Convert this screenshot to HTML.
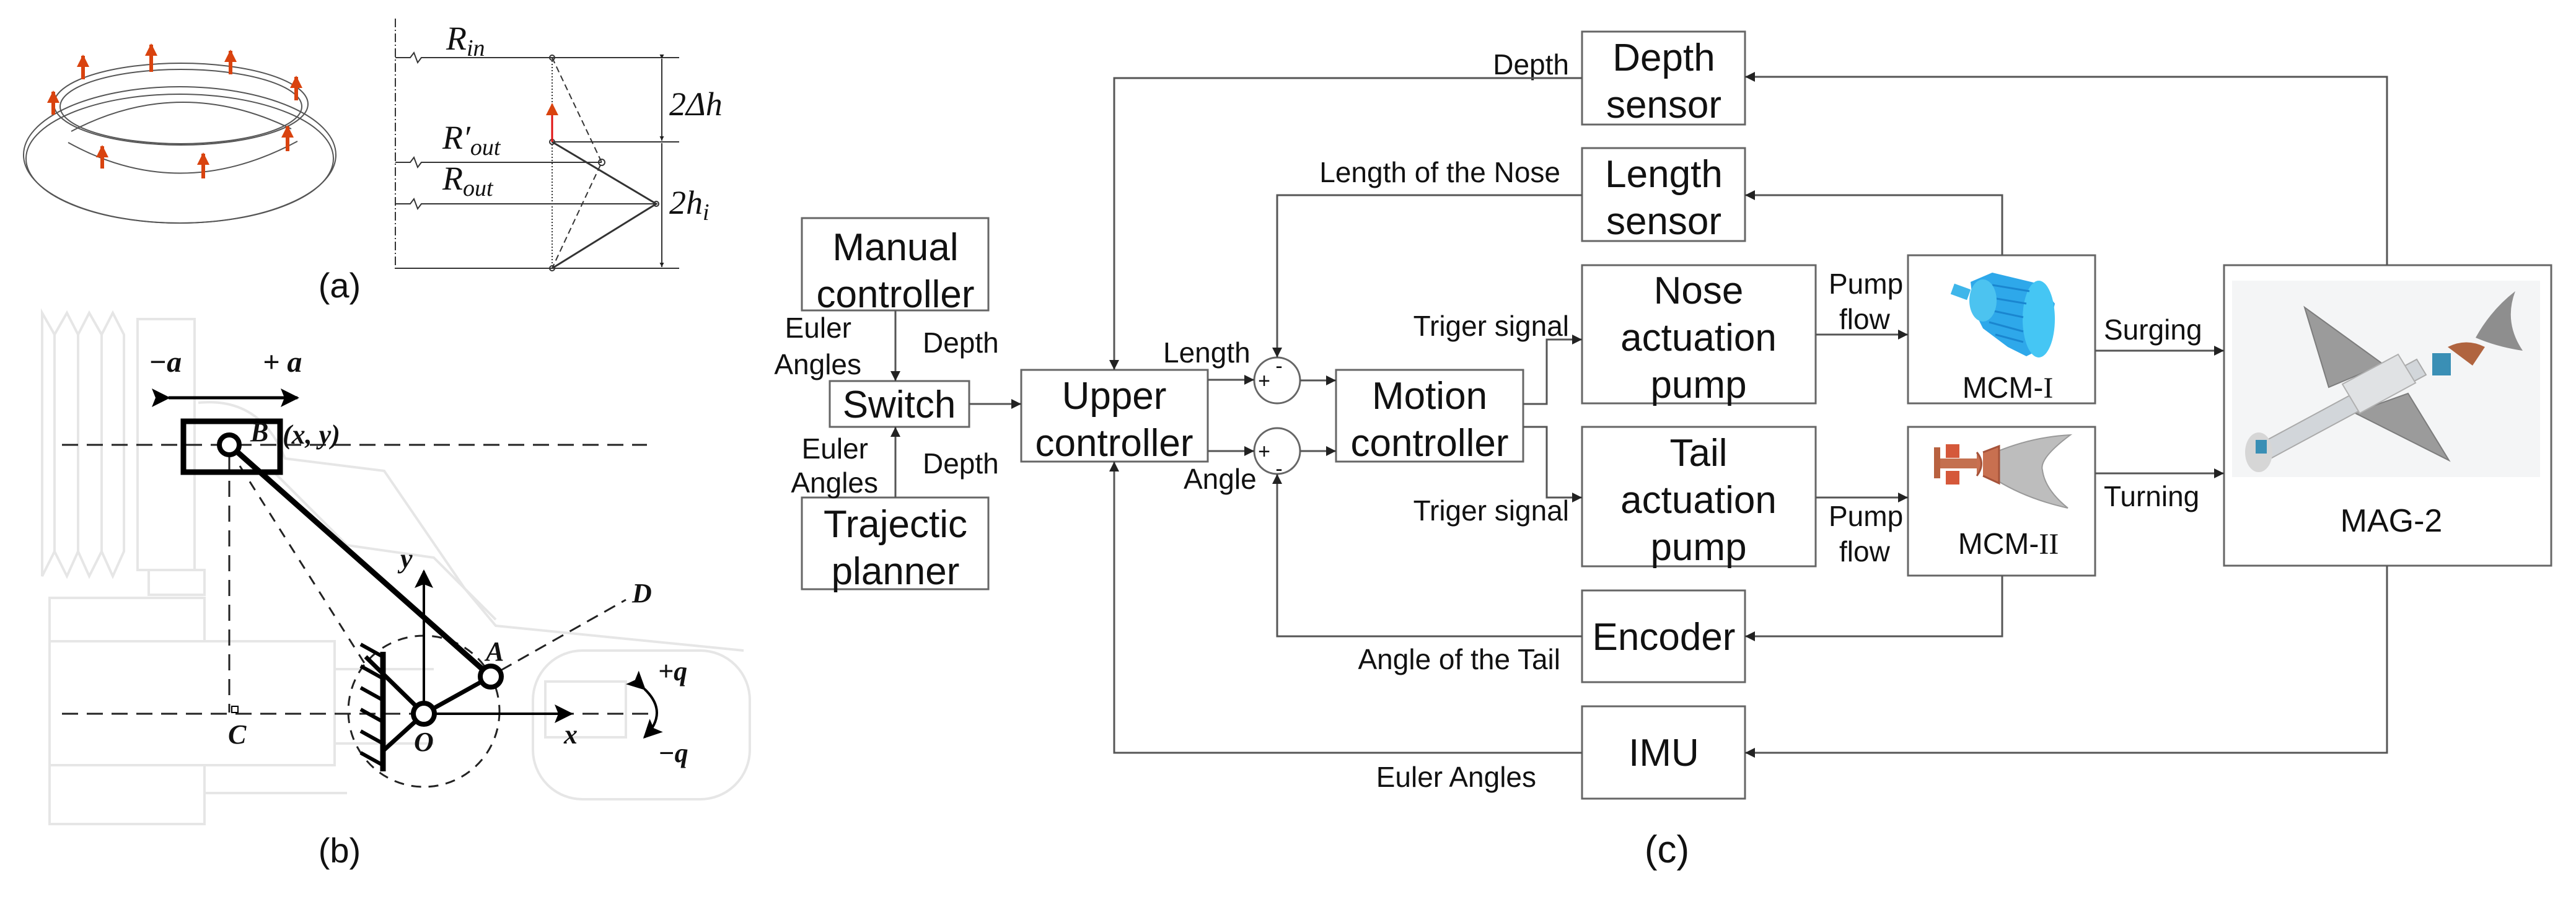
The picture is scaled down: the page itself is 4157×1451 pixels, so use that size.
<!DOCTYPE html>
<html><head><meta charset="utf-8"><style>
html,body{margin:0;padding:0;background:#fff;}
svg{display:block;}
.t{font-family:"Liberation Sans",Arial,sans-serif;fill:#111;}
.s{font-family:"Liberation Serif",serif;font-style:italic;fill:#111;}
.sb{font-family:"Liberation Serif",serif;font-style:italic;font-weight:bold;fill:#111;}
</style></head><body>
<svg width="4157" height="1451" viewBox="0 0 4157 1451" xmlns="http://www.w3.org/2000/svg">
<defs>
<marker id="ar" viewBox="0 0 10 10" refX="10" refY="5" markerWidth="7" markerHeight="7" markerUnits="userSpaceOnUse" orient="auto"><path d="M0,0 L10,5 L0,10 z" fill="#222"/></marker>
<marker id="ar2" viewBox="0 0 10 10" refX="10" refY="5" markerWidth="16" markerHeight="16" markerUnits="userSpaceOnUse" orient="auto"><path d="M0,0 L10,5 L0,10 z" fill="#222"/></marker>
<marker id="ab" viewBox="0 0 10 10" refX="9" refY="5" markerWidth="40" markerHeight="30" markerUnits="userSpaceOnUse" orient="auto"><path d="M0,0 L10,5 L0,10 L2,5 z" fill="#000"/></marker>
<marker id="ared" viewBox="0 0 10 10" refX="9" refY="5" markerWidth="20" markerHeight="20" markerUnits="userSpaceOnUse" orient="auto"><path d="M0,0 L10,5 L0,10 z" fill="#d9430f"/></marker>
</defs>

<!-- ============ Panel (a) ============ -->
<g fill="none" stroke="#555" stroke-width="2">
<ellipse cx="290" cy="250" rx="252" ry="110"/>
<ellipse cx="290" cy="256" rx="248" ry="104"/>
<ellipse cx="292" cy="168" rx="205" ry="66"/>
<ellipse cx="292" cy="172" rx="195" ry="60"/>
<path d="M115,212 Q290,120 470,208"/>
<path d="M110,230 Q290,330 480,228"/>
</g>
<g stroke="#d9430f" stroke-width="6" marker-end="url(#ared)">
<line x1="86" y1="185" x2="86" y2="148"/>
<line x1="134" y1="128" x2="134" y2="90"/>
<line x1="244" y1="116" x2="244" y2="72"/>
<line x1="372" y1="120" x2="372" y2="82"/>
<line x1="478" y1="162" x2="478" y2="124"/>
<line x1="464" y1="244" x2="464" y2="204"/>
<line x1="328" y1="288" x2="328" y2="248"/>
<line x1="165" y1="272" x2="165" y2="236"/>
</g>
<g stroke="#333" stroke-width="2" fill="none">
<line x1="638" y1="30" x2="638" y2="434" stroke-dasharray="14,4,2,4"/>
<line x1="638" y1="433" x2="1096" y2="433"/>
<path d="M638,93 L662,93 L668,85 L674,101 L680,93 L1096,93"/>
<path d="M638,262 L662,262 L668,254 L674,270 L680,262 L971,262"/>
<path d="M638,329 L662,329 L668,321 L674,337 L680,329 L1059,329"/>
<line x1="891" y1="229" x2="1096" y2="229"/>
<line x1="891" y1="93" x2="891" y2="433" stroke-dasharray="2,3"/>
<path d="M891,93 L971,262 L891,433" stroke-dasharray="10,6"/>
<path d="M891,229 L1059,329 L891,433" stroke-width="3"/>
<circle cx="891" cy="93" r="4"/><circle cx="891" cy="229" r="4"/><circle cx="971" cy="262" r="5"/><circle cx="1059" cy="329" r="4"/><circle cx="891" cy="433" r="4"/>
<line x1="1068" y1="95" x2="1068" y2="227" marker-end="url(#ar)" marker-start="url(#ar)"/>
<line x1="1068" y1="231" x2="1068" y2="431" marker-end="url(#ar)"/>
</g>
<line x1="891" y1="229" x2="891" y2="168" stroke="#e01010" stroke-width="3" marker-end="url(#ared)"/>
<text class="s" x="720" y="80" font-size="54">R<tspan font-size="38" dy="10">in</tspan></text>
<text class="s" x="714" y="240" font-size="54">R′<tspan font-size="38" dy="10">out</tspan></text>
<text class="s" x="714" y="306" font-size="54">R<tspan font-size="38" dy="10">out</tspan></text>
<text class="s" x="1080" y="186" font-size="54" font-style="normal">2Δ<tspan font-style="italic">h</tspan></text>
<text class="s" x="1080" y="345" font-size="54" font-style="normal">2<tspan font-style="italic">h</tspan><tspan font-size="38" dy="10" font-style="italic">i</tspan></text>
<text class="t" x="548" y="480" font-size="56" text-anchor="middle">(a)</text>

<!-- ============ Panel (b) ============ -->
<g fill="none" stroke="#e6e6e6" stroke-width="4">
<path d="M68,505 L88,540 L108,505 L126,540 L144,505 L164,540 L182,505 L200,540 L200,890 L182,930 L164,890 L144,930 L126,890 L108,930 L88,890 L68,930 Z"/>
<line x1="88" y1="540" x2="88" y2="890"/><line x1="126" y1="540" x2="126" y2="890"/><line x1="164" y1="540" x2="164" y2="890"/>
<rect x="222" y="515" width="92" height="405"/>
<rect x="240" y="920" width="90" height="40"/>
<rect x="80" y="965" width="250" height="70"/>
<rect x="80" y="1035" width="460" height="200"/>
<rect x="80" y="1235" width="250" height="95"/>
<path d="M320,650 Q420,640 460,740 L620,760 L750,950 L800,1010 L1200,1050"/>
<path d="M440,760 L560,880 L700,900 L800,1000"/>
<rect x="860" y="1050" width="350" height="240" rx="80"/>
<rect x="880" y="1100" width="130" height="90"/>
<line x1="540" y1="1080" x2="700" y2="1080"/><line x1="540" y1="1200" x2="700" y2="1200"/>
<line x1="330" y1="1280" x2="560" y2="1280"/>
</g>
<g stroke="#222" stroke-width="3" fill="none" stroke-dasharray="26,14">
<line x1="100" y1="718" x2="1044" y2="718"/>
<line x1="100" y1="1152" x2="1048" y2="1152"/>
<line x1="370" y1="736" x2="370" y2="1150"/>
<line x1="387" y1="752" x2="598" y2="1086" stroke-dasharray="16,14"/>
<line x1="808" y1="1082" x2="1010" y2="968" stroke-dasharray="20,12"/>
<circle cx="684" cy="1148" r="122" stroke-dasharray="16,12"/>
</g>
<rect x="296" y="680" width="156" height="82" fill="none" stroke="#000" stroke-width="9"/>
<rect x="374" y="1140" width="10" height="10" fill="none" stroke="#000" stroke-width="2"/>
<line x1="370" y1="718" x2="792" y2="1092" stroke="#000" stroke-width="9"/>
<line x1="684" y1="1152" x2="792" y2="1092" stroke="#000" stroke-width="7"/>
<line x1="684" y1="1152" x2="590" y2="1060" stroke="#000" stroke-width="7"/>
<line x1="684" y1="1152" x2="618" y2="1212" stroke="#000" stroke-width="7"/>
<line x1="618" y1="1052" x2="618" y2="1245" stroke="#000" stroke-width="9"/>
<g stroke="#000" stroke-width="6">
<line x1="618" y1="1060" x2="582" y2="1040"/><line x1="618" y1="1095" x2="582" y2="1075"/><line x1="618" y1="1130" x2="582" y2="1110"/><line x1="618" y1="1165" x2="582" y2="1145"/><line x1="618" y1="1200" x2="582" y2="1180"/><line x1="618" y1="1235" x2="582" y2="1215"/>
</g>
<line x1="272" y1="642" x2="480" y2="642" stroke="#000" stroke-width="5" marker-end="url(#ab)" marker-start="url(#ab)"/>
<line x1="684" y1="1152" x2="684" y2="922" stroke="#000" stroke-width="4" marker-end="url(#ab)"/>
<line x1="684" y1="1152" x2="922" y2="1152" stroke="#000" stroke-width="4" marker-end="url(#ab)"/>
<path d="M1040,1112 Q1080,1150 1040,1190" fill="none" stroke="#000" stroke-width="4" marker-end="url(#ab)" marker-start="url(#ab)"/>
<circle cx="370" cy="718" r="16" fill="#fff" stroke="#000" stroke-width="8"/>
<circle cx="792" cy="1092" r="17" fill="#fff" stroke="#000" stroke-width="8"/>
<circle cx="684" cy="1152" r="17" fill="#fff" stroke="#000" stroke-width="8"/>
<text class="sb" x="240" y="600" font-size="48" font-style="normal">−<tspan font-style="italic">a</tspan></text>
<text class="sb" x="424" y="600" font-size="48" font-style="normal">+ <tspan font-style="italic">a</tspan></text>
<text class="sb" x="404" y="712" font-size="44">B</text>
<text class="sb" x="456" y="716" font-size="44" font-style="normal">(<tspan font-style="italic">x</tspan>, <tspan font-style="italic">y</tspan>)</text>
<text class="sb" x="368" y="1200" font-size="44">C</text>
<text class="sb" x="646" y="916" font-size="44">y</text>
<text class="sb" x="910" y="1200" font-size="44">x</text>
<text class="sb" x="1020" y="972" font-size="44">D</text>
<text class="sb" x="784" y="1066" font-size="44">A</text>
<text class="sb" x="668" y="1212" font-size="44" font-style="normal">O</text>
<text class="sb" x="1062" y="1098" font-size="44" font-style="normal">+<tspan font-style="italic">q</tspan></text>
<text class="sb" x="1062" y="1230" font-size="44" font-style="normal">−<tspan font-style="italic">q</tspan></text>
<text class="t" x="548" y="1392" font-size="56" text-anchor="middle">(b)</text>

<!-- ============ Panel (c) ============ -->
<g fill="#fff" stroke="#666" stroke-width="3">
<rect x="1294" y="352" width="301" height="149"/>
<rect x="1339" y="615" width="225" height="74"/>
<rect x="1294" y="803" width="301" height="148"/>
<rect x="1648" y="597" width="301" height="148"/>
<rect x="2156" y="597" width="302" height="148"/>
<rect x="2553" y="51" width="263" height="150"/>
<rect x="2553" y="239" width="263" height="150"/>
<rect x="2553" y="428" width="377" height="223"/>
<rect x="2553" y="689" width="377" height="225"/>
<rect x="2553" y="953" width="263" height="148"/>
<rect x="2553" y="1140" width="263" height="149"/>
<rect x="3079" y="412" width="302" height="239"/>
<rect x="3079" y="689" width="302" height="240"/>
<rect x="3589" y="428" width="528" height="485"/>
<circle cx="2061" cy="614" r="37"/>
<circle cx="2061" cy="728" r="37"/>
</g>
<g font-size="62" class="t" text-anchor="middle">
<text x="1445" y="420">Manual</text><text x="1445" y="496">controller</text>
<text x="1451" y="674">Switch</text>
<text x="1445" y="867">Trajectic</text><text x="1445" y="943">planner</text>
<text x="1798" y="660">Upper</text><text x="1798" y="736">controller</text>
<text x="2307" y="660">Motion</text><text x="2307" y="736">controller</text>
<text x="2685" y="114">Depth</text><text x="2685" y="190">sensor</text>
<text x="2685" y="302">Length</text><text x="2685" y="378">sensor</text>
<text x="2741" y="490">Nose</text><text x="2741" y="566">actuation</text><text x="2741" y="642">pump</text>
<text x="2741" y="752">Tail</text><text x="2741" y="828">actuation</text><text x="2741" y="904">pump</text>
<text x="2685" y="1049">Encoder</text>
<text x="2685" y="1236">IMU</text>
<text x="2690" y="1392">(c)</text>
</g>
<text class="t" x="3859" y="858" font-size="52" text-anchor="middle">MAG-2</text>
<text x="3240" y="642" font-size="48" text-anchor="middle" style="font-family:'Liberation Sans',sans-serif" fill="#111">MCM-<tspan style="font-family:'Liberation Serif',serif">I</tspan></text>
<text x="3241" y="894" font-size="48" text-anchor="middle" style="font-family:'Liberation Sans',sans-serif" fill="#111">MCM-<tspan style="font-family:'Liberation Serif',serif">II</tspan></text>

<g class="t" font-size="46">
<text x="2532" y="120" text-anchor="end">Depth</text>
<text x="2518" y="294" text-anchor="end">Length of the Nose</text>
<text x="2532" y="542" text-anchor="end">Triger signal</text>
<text x="2532" y="840" text-anchor="end">Triger signal</text>
<text x="2518" y="1080" text-anchor="end">Angle of the Tail</text>
<text x="2479" y="1270" text-anchor="end">Euler Angles</text>
<text x="1877" y="585">Length</text>
<text x="1910" y="789">Angle</text>
<text x="1374" y="545" text-anchor="end">Euler</text>
<text x="1390" y="604" text-anchor="end">Angles</text>
<text x="1489" y="569">Depth</text>
<text x="1401" y="740" text-anchor="end">Euler</text>
<text x="1417" y="795" text-anchor="end">Angles</text>
<text x="1489" y="764">Depth</text>
<text x="2951" y="474">Pump</text><text x="2968" y="531">flow</text>
<text x="2951" y="849">Pump</text><text x="2968" y="906">flow</text>
<text x="3395" y="548">Surging</text>
<text x="3395" y="817">Turning</text>
</g>
<g font-size="34" class="t" text-anchor="middle">
<text x="2040" y="626">+</text><text x="2064" y="602">-</text>
<text x="2040" y="740">+</text><text x="2064" y="768">-</text>
</g>

<g fill="none" stroke="#555" stroke-width="3" marker-end="url(#ar2)">
<line x1="1445" y1="501" x2="1445" y2="615"/>
<line x1="1445" y1="803" x2="1445" y2="689"/>
<line x1="1564" y1="652" x2="1648" y2="652"/>
<line x1="1949" y1="613" x2="2024" y2="613"/>
<line x1="1949" y1="728" x2="2024" y2="728"/>
<line x1="2098" y1="614" x2="2156" y2="614"/>
<line x1="2098" y1="728" x2="2156" y2="728"/>
<polyline points="2458,652 2496,652 2496,548 2553,548"/>
<polyline points="2458,689 2496,689 2496,803 2553,803"/>
<polyline points="2553,126 1798,126 1798,597"/>
<polyline points="2553,315 2061,315 2061,577"/>
<polyline points="2553,1027 2061,1027 2061,765"/>
<polyline points="2553,1215 1798,1215 1798,745"/>
<line x1="2930" y1="540" x2="3079" y2="540"/>
<line x1="2930" y1="803" x2="3079" y2="803"/>
<line x1="3381" y1="566" x2="3589" y2="566"/>
<line x1="3381" y1="764" x2="3589" y2="764"/>
<polyline points="3231,412 3231,315 2816,315"/>
<polyline points="3231,929 3231,1027 2816,1027"/>
<polyline points="3852,428 3852,124 2816,124"/>
<polyline points="3852,913 3852,1215 2816,1215"/>
</g>

<!-- MCM-I image -->
<g>
<rect x="3150" y="462" width="28" height="18" fill="#3fb6ea" transform="rotate(20 3164 471)"/>
<path d="M3180,455 L3215,440 L3290,458 L3316,490 L3300,560 L3270,575 L3240,560 L3200,530 L3185,500 Z" fill="#2ea8ea"/>
<ellipse cx="3290" cy="515" rx="26" ry="62" fill="#45c6f4"/>
<g stroke="#1a86d0" stroke-width="3"><line x1="3215" y1="460" x2="3275" y2="470"/><line x1="3210" y1="480" x2="3270" y2="490"/><line x1="3208" y1="500" x2="3265" y2="512"/><line x1="3210" y1="520" x2="3265" y2="535"/><line x1="3220" y1="540" x2="3265" y2="552"/></g>
<ellipse cx="3200" cy="485" rx="22" ry="34" fill="#4cc3f0"/>
</g>
<!-- MCM-II image -->
<g>
<path d="M3222,729 Q3280,705 3341,702 Q3290,740 3296,759 Q3300,790 3337,820 Q3270,805 3222,775 Z" fill="#bdbdbd" stroke="#999" stroke-width="2"/>
<rect x="3121" y="722" width="10" height="50" fill="#b8613f"/>
<rect x="3131" y="740" width="60" height="16" fill="#c4704f"/>
<rect x="3140" y="717" width="22" height="22" fill="#d5583a"/>
<rect x="3140" y="760" width="22" height="22" fill="#d5583a"/>
<path d="M3190,730 Q3205,748 3190,768 M3200,730 L3226,720 L3226,780 L3200,768" fill="#c87050" stroke="#a5533a" stroke-width="3"/>
</g>
<!-- MAG-2 image -->
<g>
<rect x="3602" y="453" width="497" height="317" fill="#f4f5f6"/>
<path d="M3719,496 L3846,588 L3758,625 Z" fill="#9b9b9b" stroke="#7c7c7c" stroke-width="2"/>
<path d="M3799,666 L3886,635 L3952,743 Z" fill="#9b9b9b" stroke="#7c7c7c" stroke-width="2"/>
<path d="M4059,470 Q4040,520 4071,566 Q4030,560 3995,545 Q4020,500 4059,470 Z" fill="#8e8e8e"/>
<path d="M3640,720 L3900,580 L3915,605 L3655,745 Z" fill="#d2d6da" stroke="#aaa" stroke-width="2"/>
<path d="M3780,620 L3870,572 L3898,618 L3808,667 Z" fill="#e0e2e4" stroke="#b0b0b0" stroke-width="2"/>
<ellipse cx="3645" cy="730" rx="22" ry="32" fill="#d6d6d6"/>
<rect x="3640" y="710" width="18" height="22" fill="#3a8fb5"/>
<rect x="3925" y="570" width="30" height="36" fill="#3a8fb5"/>
<path d="M3950,560 Q3980,545 4010,560 L3990,590 Z" fill="#b0643f"/>
</g>
</svg>
</body></html>
